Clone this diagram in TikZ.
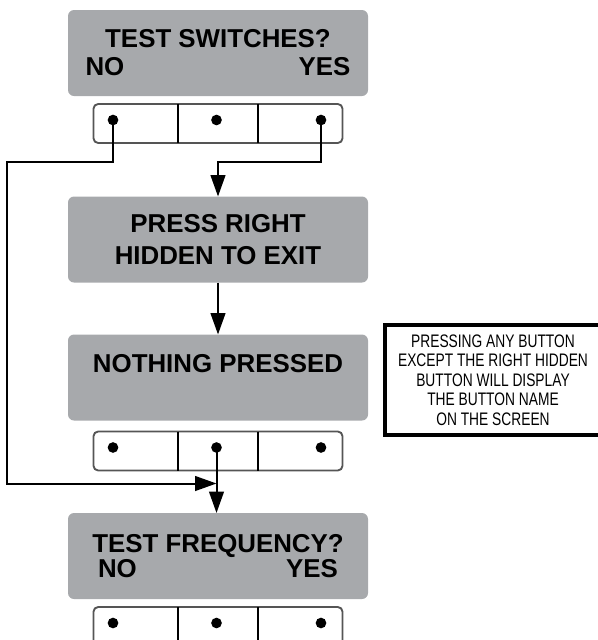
\documentclass[tikz,border=0pt]{standalone}
\usepackage{fontspec}
\setmainfont{Liberation Sans}
\newfontfamily\notefont[FakeStretch=0.76]{Liberation Sans}
\usetikzlibrary{arrows.meta, positioning}
\definecolor{lcdgray}{RGB}{167,169,172}
\definecolor{keyrim}{RGB}{85,85,85}
\tikzstyle{screen} = [fill=lcdgray, rounded corners=4.5pt, minimum width=225pt, minimum height=64.5pt,
                      inner sep=0pt, outer sep=0pt, align=center, font=\fontsize{19.4}{21}\selectfont\bfseries]
\tikzstyle{keypad} = [draw=keyrim, line width=1.4pt, rounded corners=3.5pt, fill=white,
                      minimum width=186.75pt, minimum height=29.25pt, inner sep=0pt, outer sep=0pt]
\tikzstyle{divider} = [line width=1.5pt]
\tikzstyle{keydot} = [circle, fill=black, inner sep=0pt, minimum size=8pt]
\tikzstyle{wire} = [line width=1.5pt, -{Triangle[length=16pt, width=11pt]}]
\tikzstyle{note} = [draw, line width=3pt, minimum width=162pt, minimum height=82.5pt, align=center,
                    font=\notefont\fontsize{13.6}{14.6}\selectfont]

\begin{document}
\begin{tikzpicture}[x=0.75pt, y=-0.75pt]
    \useasboundingbox (0,0) rectangle (598,640);
    \clip (0,0) rectangle (598,640);

    % Display screens
    \node[screen] (scr1) at (218,53) {TEST SWITCHES?\\\makebox[198.75pt]{NO\hfill YES}};
    \node[screen, font=\fontsize{19.4}{24}\selectfont\bfseries] (scr2) at (218,239.5)
        {PRESS RIGHT\\HIDDEN TO EXIT};
    \node[screen] (scr3) at (218,377.5) {NOTHING PRESSED\\\mbox{}};
    \node[screen, font=\fontsize{19.4}{16.5}\selectfont\bfseries] (scr4) at (218,556)
        {\raisebox{2pt}{TEST FREQUENCY?}\\\makebox[180pt]{NO\hfill YES}};

    % Button rows under the screens
    \node[keypad, below=6pt of scr1] (bar1) {};
    \node[keypad, below=8.25pt of scr3] (bar2) {};
    \node[keypad, below=6pt of scr4] (bar3) {};

    \foreach \b in {1,2,3}{
      % Dividers
      \draw[divider] ([xshift=63pt]bar\b.north west) -- ([xshift=63pt]bar\b.south west);
      \draw[divider] ([xshift=123.4pt]bar\b.north west) -- ([xshift=123.4pt]bar\b.south west);
      % Button dots
      \node[keydot] (dl\b) at ([shift={(19.5,-3.5)}]bar\b.west) {};
      \node[keydot] (dm\b) at ([shift={(-1.5,-3.5)}]bar\b.center) {};
      \node[keydot] (dr\b) at ([shift={(-21.5,-3.5)}]bar\b.east) {};
    }

    % Side note
    \node[note] (tip) at (493,380) {PRESSING ANY BUTTON\\EXCEPT THE RIGHT HIDDEN\\BUTTON WILL DISPLAY\\THE BUTTON NAME\\ON THE SCREEN};

    % Connectors
    \path (dm2.center) ++(0,36) coordinate (join);
    \draw[wire] (dl1.center) -- ++(0,42) -- ++(-106,0) |- (join);
    \draw[wire] (dr1.center) -- ++(0,42) -| (scr2.north);
    \draw[wire] (scr2) -- (scr3);
    \draw[wire] (dm2.center) -- (dm2 |- scr4.north);
\end{tikzpicture}
\end{document}
